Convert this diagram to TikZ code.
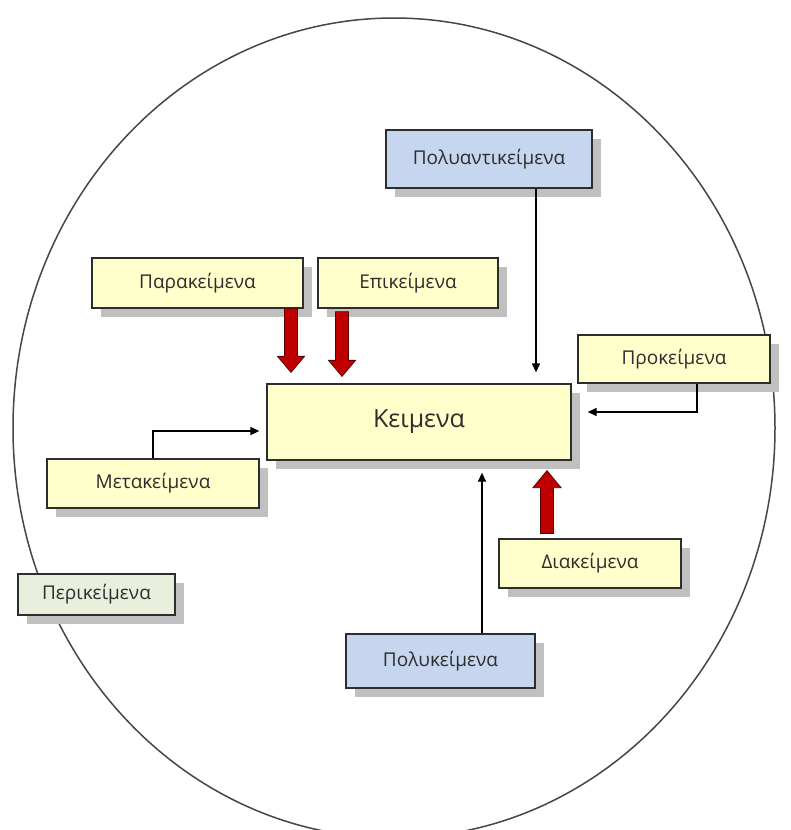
\documentclass[tikz,border=0pt]{standalone}
\usepackage{fontspec}
\setmainfont{Open Sans}
\usetikzlibrary{arrows.meta,calc,shadows}
\definecolor{yellowbox}{RGB}{255,255,204}
\definecolor{bluebox}{RGB}{198,214,238}
\definecolor{greenbox}{RGB}{232,239,220}
\definecolor{boxline}{RGB}{45,45,45}
\definecolor{txt}{RGB}{45,45,45}
\definecolor{shadowgray}{RGB}{192,192,192}
\definecolor{redfill}{RGB}{192,0,0}
\definecolor{reddraw}{RGB}{90,0,0}
\definecolor{ringline}{RGB}{70,70,70}
\newcommand\blockdown[2]{\filldraw[redfill,draw=reddraw,line width=0.8pt] let \p1=#1, \p2=#2 in (\x1-6.5pt,\y1) -- (\x1+6.5pt,\y1) -- (\x1+6.5pt,\y2+16pt) -- (\x1+13.5pt,\y2+16pt) -- (\x1,\y2) -- (\x1-13.5pt,\y2+16pt) -- (\x1-6.5pt,\y2+16pt) -- cycle;}
\newcommand\blockup[2]{\filldraw[redfill,draw=reddraw,line width=0.8pt] let \p1=#1, \p2=#2 in (\x1-6.5pt,\y1) -- (\x1+6.5pt,\y1) -- (\x1+6.5pt,\y2-17pt) -- (\x1+14pt,\y2-17pt) -- (\x1,\y2) -- (\x1-14pt,\y2-17pt) -- (\x1-6.5pt,\y2-17pt) -- cycle;}
\begin{document}
\begin{tikzpicture}[x=1pt,y=-1pt,
  box/.style={draw=boxline, line width=1.3pt, fill=yellowbox, text=txt, inner sep=0pt,
    font=\fontsize{19}{22}\selectfont,
    drop shadow={shadow xshift=9pt, shadow yshift=-9pt, fill=shadowgray, opacity=1}},
  bluestyle/.style={box, fill=bluebox},
  greenstyle/.style={box, fill=greenbox},
  thinarr/.style={draw=black, line width=1.3pt, -{Triangle[length=9pt,width=8pt]}},
  ring/.style={draw=ringline, line width=1.5pt}]
\clip (0,0) rectangle (790,830);
\fill[white] (0,0) rectangle (790,830);
\draw[ring] (394,428) ellipse [x radius=381, y radius=410];

\node[bluestyle, minimum width=206pt, minimum height=58pt] (polyant) at (489,159) {Πολυαντικείμενα};
\node[box, minimum width=211pt, minimum height=50pt] (parak) at (197.5,283) {Παρακείμενα};
\node[box, minimum width=180pt, minimum height=50pt] (epik) at (408,283) {Επικείμενα};
\node[box, minimum width=304pt, minimum height=76pt, font=\fontsize{25}{28}\selectfont] (keim) at (419,422) {Κειμενα};
\node[box, minimum width=192pt, minimum height=48pt] (prok) at (674,359) {Προκείμενα};
\node[box, minimum width=212pt, minimum height=49pt] (metak) at (153,483.5) {Μετακείμενα};
\node[greenstyle, minimum width=157pt, minimum height=41pt] (perik) at (96.5,594.5) {Περικείμενα};
\node[box, minimum width=182pt, minimum height=49pt] (diak) at (590,563.5) {Διακείμενα};
\node[bluestyle, minimum width=189pt, minimum height=54pt] (polyk) at (440.5,661) {Πολυκείμενα};

\draw[thinarr] ([xshift=47pt]polyant.south) -- ([xshift=117pt,yshift=11pt]keim.north);
\draw[thinarr] ([xshift=23pt]prok.south) |- ([xshift=16pt,yshift=10pt]keim.east);
\draw[thinarr] (metak.north) |- ([xshift=-7pt,yshift=-9pt]keim.west);
\draw[thinarr] ([xshift=41.5pt]polyk.north) -- ([xshift=63pt,yshift=-12pt]keim.south);

\blockdown{([xshift=93.5pt]parak.south)}{([xshift=-128pt,yshift=11pt]keim.north)}
\blockdown{([xshift=-66pt,yshift=-3pt]epik.south)}{([xshift=-77pt,yshift=7pt]keim.north)}
\blockup{([xshift=-43pt,yshift=5pt]diak.north)}{([xshift=128pt,yshift=-10pt]keim.south)}
\end{tikzpicture}
\end{document}
